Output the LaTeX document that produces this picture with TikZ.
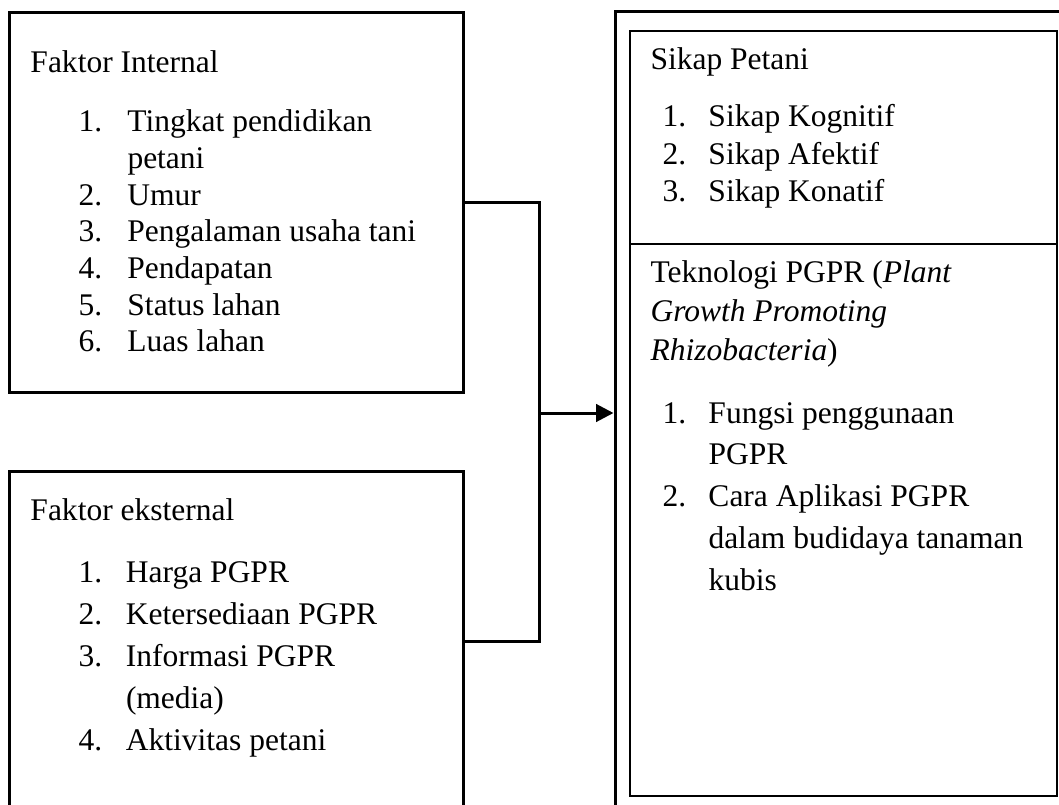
\documentclass[tikz,border=0pt]{standalone}
\usepackage{fontspec}
\setmainfont{Liberation Serif}
\usetikzlibrary{arrows.meta,fit}

\tikzset{
  kotak/.style={draw, line width=1.2pt, inner sep=0pt},
  kotaktipis/.style={draw, line width=0.6pt, inner sep=0pt},
  garis/.style={line width=1.2pt},
  teks/.style={anchor=base west, inner sep=0pt},
}
\newcommand{\baris}[1]{\fontsize{12.6}{#1}\selectfont}

\begin{document}
\begin{tikzpicture}[x=0.4pt, y=-0.4pt]
\clip (0,0) rectangle (1059,805);
\useasboundingbox (0,0) rectangle (1059,805);

% kotak kiri
\node[kotak, fit={(9,13) (463,392)}] (internal) {};
\node[kotak, fit={(9,471) (463,811)}] (eksternal) {};

% kotak kanan
\node[kotak, fit={(615,12) (1075,814)}] (luar) {};
\node[kotaktipis, fit={(630,31) (1057,796)}] (dalam) {};
\coordinate (batasL) at (630,244);
\coordinate (batasR) at (1057,244);
\draw[line width=0.8pt] (batasL) -- (batasR);

% teks faktor internal
\node[teks] (judulint) at (30,73) {\baris{14.4pt}Faktor Internal};
\node[teks] (isiint) at (78,132) {\baris{14.65pt}%
\begin{tabular}[t]{@{}p{19.6pt}@{}l@{}}
1. & Tingkat pendidikan\\
   & petani\\
2. & Umur\\
3. & Pengalaman usaha tani\\
4. & Pendapatan\\
5. & Status lahan\\
6. & Luas lahan
\end{tabular}};

% teks faktor eksternal
\node[teks] (judulext) at (30,520) {\baris{14.4pt}Faktor eksternal};
\node[teks] (isiext) at (78,582) {\baris{16.8pt}%
\begin{tabular}[t]{@{}p{19pt}@{}l@{}}
1. & Harga PGPR\\
2. & Ketersediaan PGPR\\
3. & Informasi PGPR\\
   & (media)\\
4. & Aktivitas petani
\end{tabular}};

% teks sikap petani
\node[teks] (judulsikap) at (650,70) {\baris{14.4pt}Sikap Petani};
\node[teks] (isisikap) at (662,127) {\baris{15pt}%
\begin{tabular}[t]{@{}p{18.4pt}@{}l@{}}
1. & Sikap Kognitif\\
2. & Sikap Afektif\\
3. & Sikap Konatif
\end{tabular}};

% teks teknologi
\node[teks] (judultek) at (650,283) {\baris{15.4pt}%
\begin{tabular}[t]{@{}l@{}}
Teknologi PGPR (\textit{Plant}\\
\textit{Growth Promoting}\\
\textit{Rhizobacteria})
\end{tabular}};
\node[teks] (isitek) at (662,423) {\baris{16.7pt}%
\begin{tabular}[t]{@{}p{18.4pt}@{}l@{}}
1. & Fungsi penggunaan\\
   & PGPR\\
2. & Cara Aplikasi PGPR\\
   & dalam budidaya tanaman\\
   & kubis
\end{tabular}};

% penghubung
\coordinate (simpul) at (539,413);
\draw[garis] (internal.east) -| (simpul);
\draw[garis] (eksternal.east) -| (simpul);
\draw[garis, -{Triangle[length=7pt,width=7pt]}] (simpul) -- (luar.west);

\end{tikzpicture}
\end{document}
